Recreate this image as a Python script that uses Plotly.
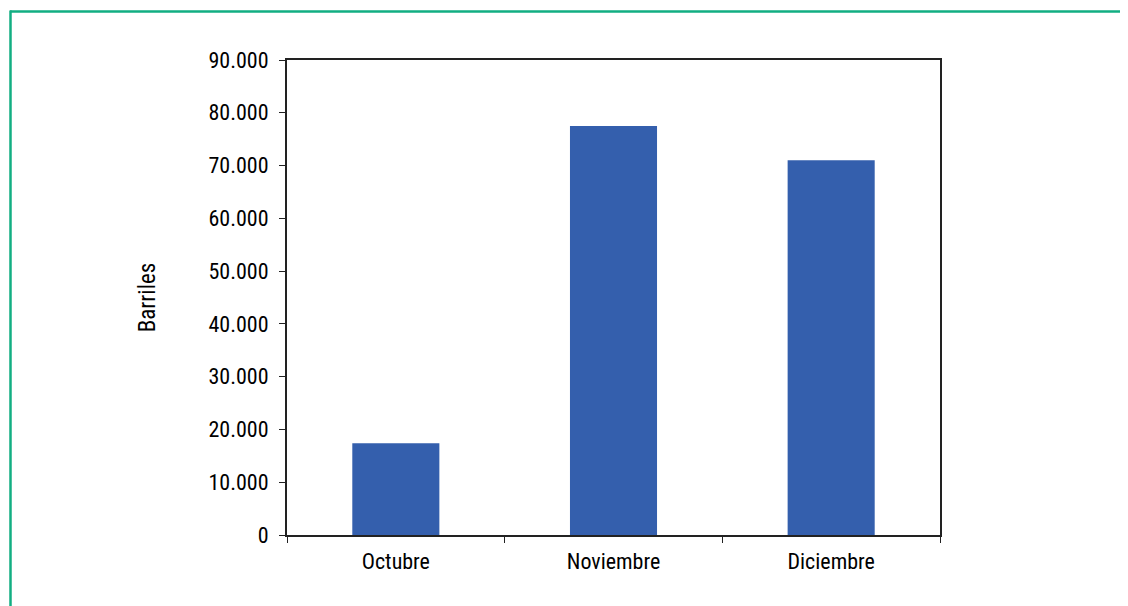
import plotly.graph_objects as go

categories = ["Octubre", "Noviembre", "Diciembre"]
barriles = [17400, 77500, 71000]
tick_vals = [0, 10000, 20000, 30000, 40000, 50000, 60000, 70000, 80000, 90000]
tick_text = ["0", "10.000", "20.000", "30.000", "40.000", "50.000", "60.000", "70.000", "80.000", "90.000"]

# page body has an 8px margin; build the figure so it lands on the reference pixels
OFF = 8
W, H = 1128 - OFF, 606 - OFF
L, T = 287 - OFF, 60 - OFF
R = W - (940 - OFF)
B = H - (535 - OFF)
pw, ph = W - L - R, H - T - B

def px(x):
    return (x - OFF - L) / pw

def py(y):
    return (H - B - (y - OFF)) / ph

FONT = "Liberation Sans Narrow, Arial Narrow, Roboto Condensed, sans-serif"

fig = go.Figure(go.Bar(x=categories, y=barriles, marker_color="#345fad",
                       marker_line_width=0, width=0.4))

fig.update_layout(
    width=W, height=H,
    margin=dict(l=L, r=R, t=T, b=B, pad=0),
    paper_bgcolor="white", plot_bgcolor="white",
    font=dict(family=FONT, size=22, color="black"),
    showlegend=False,
    xaxis=dict(showline=True, mirror=True, linecolor="#222", linewidth=2,
               ticks="outside", tickson="boundaries", ticklen=6, tickcolor="#222",
               tickfont=dict(size=22), showgrid=False, range=[-0.5, 2.5],
               ticklabelstandoff=6),
    yaxis=dict(showline=True, mirror=True, linecolor="#222", linewidth=2,
               ticks="outside", ticklen=6, tickcolor="#222",
               range=[0, 90000], tickvals=tick_vals, ticktext=tick_text,
               showgrid=False, zeroline=False, ticklabelstandoff=6,
               title=dict(text="Barriles", font=dict(size=23), standoff=46)),
    shapes=[
        dict(type="line", xref="paper", yref="paper", x0=px(10), x1=px(1128), y0=py(11.5), y1=py(11.5),
             line=dict(color="#12ae82", width=2.5)),
        dict(type="line", xref="paper", yref="paper", x0=px(10.5), x1=px(10.5), y0=py(10.5), y1=py(606),
             line=dict(color="#12ae82", width=2.5)),
    ],
)

fig.write_html("out.html")
